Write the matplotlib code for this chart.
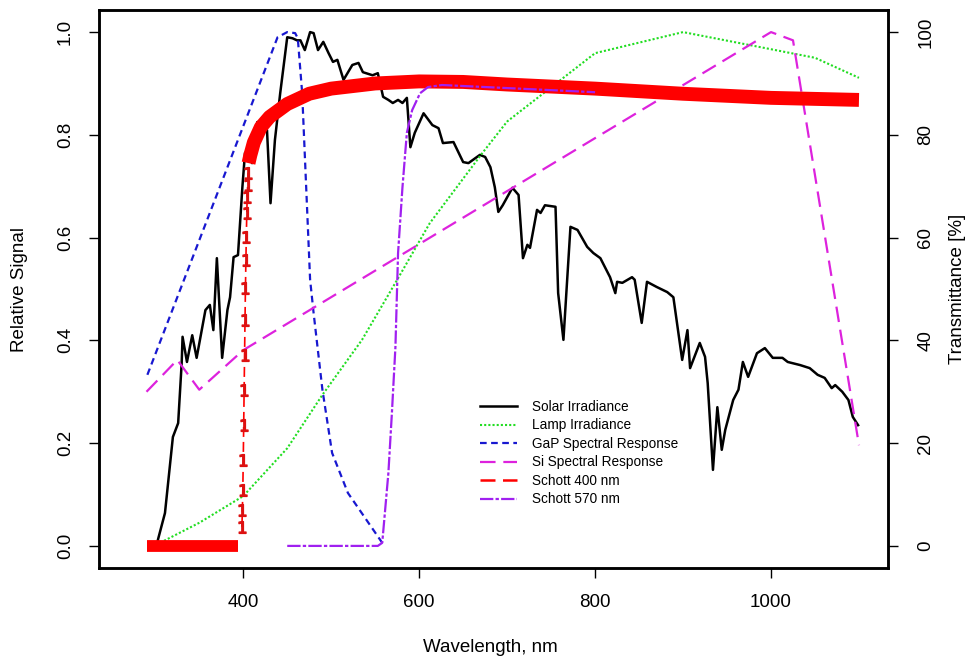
import matplotlib
matplotlib.use("Agg")
import matplotlib.pyplot as plt
from matplotlib.lines import Line2D

plt.rcParams['font.family'] = ['Liberation Sans', 'DejaVu Sans']

# --- relative signals (left axis) ---
solar_wl = [302, 303, 311, 320, 326, 330, 331, 336, 342, 347, 357, 362, 366, 370, 376,
            382, 385, 389, 394, 399, 402, 406, 410, 416, 419, 427, 431, 436, 442, 450,
            456, 461, 465, 470, 476, 480, 485, 491, 497, 502, 507, 514, 524, 531, 536,
            547, 553, 559, 565, 570, 576, 581, 586, 590, 595, 605, 615, 622, 627, 639,
            650, 656, 669, 675, 681, 686, 690, 695, 706, 713, 718, 723, 726, 734, 738,
            743, 755, 758, 764, 772, 780, 791, 798, 806, 817, 823, 825, 831, 842, 845,
            853, 859, 870, 882, 889, 899, 905, 908, 919, 925, 928, 934, 939, 944, 948,
            957, 963, 968, 974, 984, 993, 1002, 1013, 1019, 1033, 1044, 1053, 1061, 1069,
            1073, 1081, 1088, 1093, 1099]
solar_sig = [0.0, 0.012, 0.064, 0.212, 0.239, 0.356, 0.407, 0.358, 0.410, 0.366, 0.459,
             0.469, 0.420, 0.560, 0.366, 0.459, 0.484, 0.562, 0.566, 0.698, 0.765, 0.767,
             0.745, 0.825, 0.819, 0.809, 0.667, 0.790, 0.881, 0.990, 0.988, 0.984, 0.984,
             0.965, 1.000, 0.998, 0.965, 0.981, 0.959, 0.942, 0.946, 0.907, 0.936, 0.940,
             0.922, 0.916, 0.920, 0.874, 0.868, 0.862, 0.868, 0.862, 0.872, 0.776, 0.804,
             0.842, 0.819, 0.813, 0.784, 0.786, 0.747, 0.745, 0.761, 0.757, 0.737, 0.698,
             0.650, 0.663, 0.697, 0.683, 0.560, 0.586, 0.580, 0.654, 0.648, 0.663, 0.660,
             0.492, 0.401, 0.621, 0.615, 0.582, 0.570, 0.560, 0.523, 0.492, 0.514, 0.512,
             0.523, 0.518, 0.434, 0.514, 0.504, 0.494, 0.484, 0.362, 0.420, 0.346, 0.395,
             0.368, 0.317, 0.148, 0.270, 0.187, 0.226, 0.284, 0.304, 0.358, 0.329, 0.375,
             0.385, 0.366, 0.366, 0.358, 0.352, 0.346, 0.333, 0.327, 0.307, 0.313, 0.300,
             0.284, 0.251, 0.235]

lamp_wl = [310, 350, 400, 450, 490, 535, 575, 612, 672, 700, 800, 900, 1050, 1100]
lamp_sig = [0.01, 0.045, 0.097, 0.19, 0.294, 0.401, 0.518, 0.628, 0.765, 0.826, 0.959,
            1.0, 0.95, 0.911]

gap_wl = [291, 439, 450, 459, 462, 467, 476, 480, 490, 501, 519, 558, 560]
gap_sig = [0.333, 0.99, 1.0, 0.998, 0.988, 0.881, 0.518, 0.453, 0.304, 0.181, 0.103,
           0.006, 0.0]

si_wl = [290, 325, 350, 400, 1000, 1025, 1100]
si_sig = [0.30, 0.362, 0.304, 0.381, 1.0, 0.984, 0.196]

# --- filter transmittance, % (right axis) ---
s400_low_wl = [291, 394]
s400_low_t = [0, 0]
s400_rise_wl = [398.5, 399, 399.5, 400, 400.5, 401, 401.5, 402, 402.5, 403, 403.5,
                404, 404.5, 405, 405.5]
s400_rise_t = [3.7, 7.0, 10.9, 16.7, 23.5, 30.4, 37.2, 44.0, 50.2, 55.6, 60.1, 64.8,
               67.9, 70.2, 72.6]
s400_high_wl = [406, 408, 412, 420, 430, 450, 475, 500, 550, 600, 650, 700, 800, 900,
                1000, 1100]
s400_high_t = [74.5, 76, 78.5, 81.5, 83.5, 86, 88, 89, 90, 90.4, 90.3, 89.8, 89, 88,
               87.2, 86.8]

s570_wl = [450, 553, 558, 561, 565, 569, 573, 576, 581, 586, 592, 601, 610, 626, 800]
s570_t = [0, 0, 0.6, 6.4, 14.2, 25.9, 38.7, 57.0, 69.8, 80.4, 84.8, 88.1, 89.3, 89.7,
          88.3]

c_green = '#22DD22'
c_blue = '#1818D0'
c_mag = '#DD22DD'
c_purple = '#A020F0'

fig = plt.figure(figsize=(9.7, 6.6), dpi=100)
ax = fig.add_axes([99 / 970, 1 - 568 / 660, 789 / 970, 558 / 660])

ax.plot(solar_wl, solar_sig, color='black', lw=1.8)
ax.plot(lamp_wl, lamp_sig, color=c_green, lw=1.5, ls=(0, (1, 1)))
ax.plot(gap_wl, gap_sig, color=c_blue, lw=1.6, ls=(0, (3, 2)))
ax.plot(si_wl, si_sig, color=c_mag, lw=1.6, ls=(0, (7, 3.5)))

ax.set_xlim(236, 1133)
ax.set_ylim(-0.043, 1.043)
ax.set_xticks([400, 600, 800, 1000])
ax.set_yticks([0, 0.2, 0.4, 0.6, 0.8, 1.0])
ax.set_yticklabels(['0.0', '0.2', '0.4', '0.6', '0.8', '1.0'])

ax2 = ax.twinx()
ax2.plot(s400_low_wl, s400_low_t, color='red', lw=8.5, solid_capstyle='butt')
ax2.plot(s400_rise_wl, s400_rise_t, color='red', lw=1.2, ls=(0, (6, 3)),
         marker='$1$', ms=8.5, mec='#DD1111', mfc='#DD1111')
ax2.plot(s400_high_wl, s400_high_t, color='red', lw=10, solid_capstyle='butt',
         solid_joinstyle='round')
ax2.plot(s570_wl, s570_t, color=c_purple, lw=1.6, ls=(0, (6, 1, 1.5, 1)))
ax2.set_ylim(-4.3, 104.3)
ax2.set_yticks([0, 20, 40, 60, 80, 100])

for a in (ax, ax2):
    for sp in a.spines.values():
        sp.set_linewidth(1.8)
    a.tick_params(length=7, width=1, labelsize=13.5)
ax.tick_params(axis='x', pad=12)
ax.tick_params(axis='y', pad=11, labelrotation=90)
ax2.tick_params(axis='y', pad=14, labelrotation=90)
for lab in ax.get_yticklabels() + ax2.get_yticklabels():
    lab.set_verticalalignment('center')

fig.text(490 / 970, 1 - 648 / 660, 'Wavelength, nm', ha='center', va='center', fontsize=13.5)
fig.text(20 / 970, 1 - 289 / 660, 'Relative Signal', ha='center', va='center',
         rotation=90, fontsize=13.5)
fig.text(958 / 970, 1 - 289 / 660, 'Transmittance [%]', ha='center', va='center',
         rotation=90, fontsize=13.5)

handles = [
    Line2D([], [], color='black', lw=1.8),
    Line2D([], [], color=c_green, lw=1.5, ls=(0, (1, 1))),
    Line2D([], [], color=c_blue, lw=1.6, ls=(0, (3, 2))),
    Line2D([], [], color=c_mag, lw=1.6, ls=(0, (7, 3.5))),
    Line2D([], [], color='red', lw=1.8, ls=(0, (6, 3))),
    Line2D([], [], color=c_purple, lw=1.6, ls=(0, (6, 1, 1.5, 1))),
]
labels = ['Solar Irradiance', 'Lamp Irradiance', 'GaP Spectral Response',
          'Si Spectral Response', 'Schott 400 nm', 'Schott 570 nm']
ax2.legend(handles, labels, loc='upper left', bbox_to_anchor=(480 / 970, 1 - 400 / 660),
           bbox_transform=fig.transFigure, frameon=False, fontsize=9.8, borderpad=0,
           borderaxespad=0, handlelength=2.7, handletextpad=1.1, labelspacing=0.33)

fig.savefig('out.png', dpi=100)
